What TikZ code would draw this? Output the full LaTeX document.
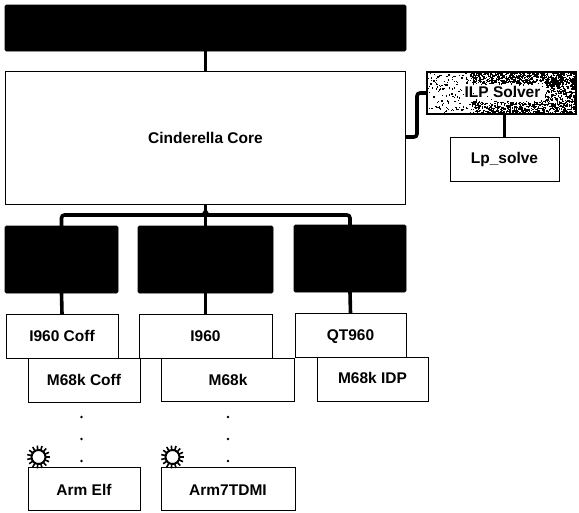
\documentclass[tikz,border=0pt]{standalone}
\usepackage{fontspec}
\setmainfont{Liberation Sans}
\usetikzlibrary{arrows.meta,calc}
\tikzset{
  x=1pt,y=-1pt,
  boxbase/.style={anchor=north west,inner sep=0pt,outer sep=0pt},
  wbox/.style={boxbase,draw=black,line width=0.9pt,fill=white},
  bbox/.style={boxbase,draw=black,line width=0.9pt,fill=black,rounded corners=1.5pt},
  tlabel/.style={anchor=base,inner sep=0pt,font=\bfseries\fontsize{15.5}{17}\selectfont},
  wire/.style={draw=black,line width=3.6pt},
  dotmark/.style={circle,fill=black,inner sep=0pt,minimum size=2.6pt},
}
\newcommand{\sunmark}[1]{%
  \draw[black,line width=2pt] (#1) circle[radius=7pt];
  \foreach \a in {0,24,...,336}
    \draw[black,line width=1.6pt] ($(#1)$) ++(\a:7.5pt) -- ++(\a:4pt);
}
\begin{document}
\begin{tikzpicture}
\useasboundingbox (0,0) rectangle (579,512);
\fill[white] (0,0) rectangle (579,512);

\node[bbox,minimum width=401pt,minimum height=46pt] (ui) at (5,5) {};
\node[wbox,minimum width=400pt,minimum height=133pt] (core) at (5.5,71.5) {};
\node[boxbase,draw=black,line width=1.2pt,fill=white,minimum width=149pt,minimum height=42pt] (ilp) at (427,72) {};
\node[wbox,minimum width=109pt,minimum height=44pt] (lps) at (450,137) {};

\node[bbox,minimum width=113pt,minimum height=67pt] (fa) at (5,226) {};
\node[bbox,minimum width=135pt,minimum height=67pt] (fb) at (138,226) {};
\node[bbox,minimum width=112pt,minimum height=67pt] (fc) at (294,225) {};

\node[wbox,minimum width=112pt,minimum height=44pt] (i1) at (6,314) {};
\node[wbox,minimum width=133pt,minimum height=44pt] (i2) at (139,314) {};
\node[wbox,minimum width=111pt,minimum height=44pt] (i3) at (295,313) {};

\node[wbox,minimum width=112pt,minimum height=44pt] (m1) at (28,358) {};
\node[wbox,minimum width=133pt,minimum height=43pt] (m2) at (161.5,358) {};
\node[wbox,minimum width=111pt,minimum height=44pt] (m3) at (317,357) {};

\node[wbox,minimum width=112pt,minimum height=43pt] (a1) at (28,467) {};
\node[wbox,minimum width=134pt,minimum height=43pt] (a2) at (161,467) {};

% connectors
\coordinate (bus) at (205.5,215);
\coordinate (tip) at (205.5,208);
\coordinate (tl) at (417,93);
\coordinate (cr) at (405,137);
\draw[wire] (ui.south) -- (core.north);
\draw[wire,rounded corners=3pt] (core.east |- cr) -- (417,137) -- (tl) -- (ilp.west);
\draw[wire] (ilp.south -| lps.north) -- (lps.north);
\draw[wire] (core.south) -- (fb.north);
\draw[wire,rounded corners=3pt] (fa.north) -- (fa.north |- bus) -- (fc.north |- bus) -- (fc.north);
\fill[black] (tip) -- ++(4.5,7) -- ++(-9,0) -- cycle;
\draw[wire] (fa.south) -- (i1.north);
\draw[wire] (fb.south) -- (i2.north);
\draw[wire] (fc.south) -- (i3.north);

% dithered ILP box
\begin{scope}
\clip (ilp.north west) rectangle (ilp.south east);
\pgfmathsetseed{4242}
\foreach \i in {1,...,4200}{
  \pgfmathsetmacro{\u}{rnd}
  \pgfmathsetmacro{\v}{rnd}
  \pgfmathsetmacro{\w}{rnd}
  \pgfmathsetmacro{\dens}{\u<0.3 ? 0.06+0.5*\u : (\v<0.4 ? 0.95 : 0.7)}
  \pgfmathparse{\w<\dens ? 1 : 0}
  \ifnum\pgfmathresult=1
    \fill[black] ({427+149*\u},{72+42*\v}) rectangle ++(1.3,1.3);
  \fi
}
% lighter, speckled patch behind the label
\foreach \i in {1,...,900}{
  \pgfmathsetmacro{\u}{rnd}
  \pgfmathsetmacro{\v}{rnd}
  \fill[white] ({462+82*\u},{83+17*\v}) rectangle ++(2.4,2.4);
}
\end{scope}
\draw[black,line width=1.4pt] (ilp.north west) rectangle (ilp.south east);

% labels
\node[tlabel] (coret) at (205.5,143) {Cinderella Core};
\node[tlabel] (ilpt) at (502.5,97) {ILP Solver};
\node[tlabel] (lpst) at (504.5,163) {Lp\_solve};
\node[tlabel] (i1t) at (62,341) {I960 Coff};
\node[tlabel] (i2t) at (205.5,341) {I960};
\node[tlabel] (i3t) at (350.5,340) {QT960};
\node[tlabel] (m1t) at (84,385) {M68k Coff};
\node[tlabel] (m2t) at (228,385) {M68k};
\node[tlabel] (m3t) at (372.5,383) {M68k IDP};
\node[tlabel] (a1t) at (84,495) {Arm Elf};
\node[tlabel] (a2t) at (228,495) {Arm7TDMI};

% dots and suns
\foreach \n/\y in {p/417,q/439,r/461}{
  \node[dotmark] (\n1) at (81.5,\y) {};
  \node[dotmark] (\n2) at (228,\y) {};
}
\coordinate (s1) at (38.5,457);
\coordinate (s2) at (172.5,457);
\sunmark{s1}
\sunmark{s2}
\end{tikzpicture}
\end{document}
